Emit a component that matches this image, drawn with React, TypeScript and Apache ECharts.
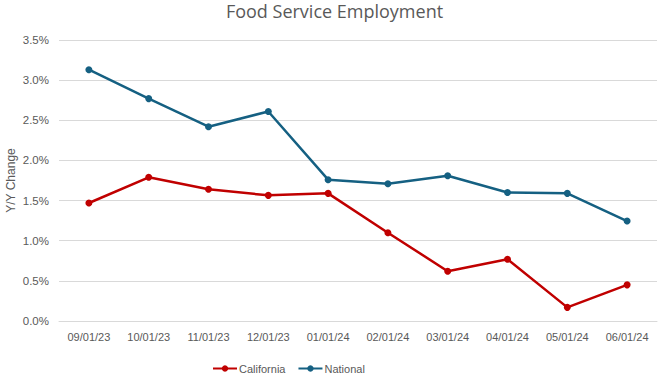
import React, { useEffect, useRef } from "react";
import * as echarts from "echarts";

const categories = ["09/01/23", "10/01/23", "11/01/23", "12/01/23", "01/01/24", "02/01/24", "03/01/24", "04/01/24", "05/01/24", "06/01/24"];
const california = [1.47, 1.79, 1.64, 1.565, 1.59, 1.10, 0.62, 0.77, 0.17, 0.45];
const national = [3.13, 2.77, 2.42, 2.61, 1.76, 1.71, 1.81, 1.60, 1.59, 1.245];

const FONT = "'Liberation Sans', Arial, sans-serif";
const TFONT = "'Open Sans', 'Liberation Sans', sans-serif";
const TXT = "#595959";

export default function App() {
  const ref = useRef<HTMLDivElement>(null);
  useEffect(() => {
    if (!ref.current) return;
    const chart = echarts.init(ref.current, null, { renderer: "svg" });
    chart.setOption({
      animation: false,
      backgroundColor: "#ffffff",
      textStyle: { fontFamily: FONT },
      title: {
        text: "Food Service Employment",
        left: "center",
        top: -3,
        textStyle: { fontFamily: TFONT, fontSize: 18, fontWeight: "normal", color: TXT },
      },
      legend: {
        left: 207,
        top: 358,
        itemWidth: 24,
        itemHeight: 8,
        itemGap: 12,
        textStyle: { fontFamily: FONT, fontSize: 11, color: TXT, padding: [0, 0, 0, -3] },
        data: ["California", "National"],
      },
      grid: { left: 59, right: 12, top: 40, bottom: 54, containLabel: false, outerBoundsMode: "none" },
      xAxis: {
        type: "category",
        data: categories,
        boundaryGap: true,
        axisLine: { lineStyle: { color: "#d9d9d9", width: 1 } },
        axisTick: { show: false },
        axisLabel: { color: TXT, fontSize: 11, fontFamily: FONT, margin: 10, interval: 0 },
      },
      yAxis: {
        type: "value",
        min: 0,
        max: 3.5,
        interval: 0.5,
        name: "Y/Y Change",
        nameLocation: "middle",
        nameGap: 42,
        nameMoveOverlap: false,
        nameTextStyle: { color: TXT, fontSize: 12, fontFamily: FONT },
        axisLine: { show: false },
        axisTick: { show: false },
        splitLine: { lineStyle: { color: "#d9d9d9", width: 1 } },
        axisLabel: {
          color: TXT,
          fontSize: 11.5,
          fontFamily: FONT,
          margin: 10,
          formatter: (v: number) => v.toFixed(1) + "%",
        },
      },
      series: [
        {
          name: "California",
          type: "line",
          data: california,
          symbol: "circle",
          symbolSize: 7,
          itemStyle: { color: "#C00000" },
          lineStyle: { color: "#C00000", width: 2.5 },
        },
        {
          name: "National",
          type: "line",
          data: national,
          symbol: "circle",
          symbolSize: 7,
          itemStyle: { color: "#156082" },
          lineStyle: { color: "#156082", width: 2.5 },
        },
      ],
    });
    return () => chart.dispose();
  }, []);
  return <div ref={ref} style={{ width: 669, height: 375, position: "absolute", left: 0, top: 0 }} />;
}
